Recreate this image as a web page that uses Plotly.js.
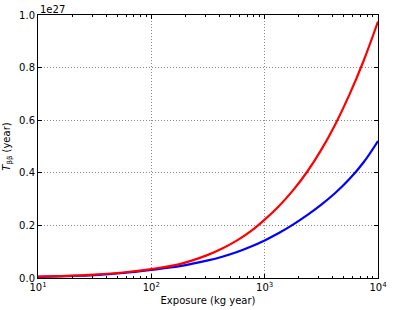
<!DOCTYPE html>
<html>
<head>
<meta charset="utf-8">
<script src="https://cdn.plot.ly/plotly-3.0.1.min.js"></script>
<style>html,body{margin:0;padding:0;background:#fff;}#chart{width:393px;height:310px;}</style>
</head>
<body>
<div id="chart"></div>
<script>
// Exposure (kg year)
const exposure = [10, 17.8, 31.6, 56.2, 100, 178, 316, 422, 562, 750, 1000, 1334, 1778, 2371, 3162, 4217, 5623, 7499, 10000];
// Sensitivity values in units of 1e27 years
const redT = [0.005, 0.008, 0.013, 0.021, 0.034, 0.053, 0.088, 0.112, 0.141, 0.177, 0.222, 0.273, 0.333, 0.404, 0.488, 0.586, 0.699, 0.828, 0.975];
const blueT = [0.004, 0.007, 0.011, 0.019, 0.031, 0.045, 0.067, 0.081, 0.098, 0.119, 0.143, 0.171, 0.203, 0.239, 0.279, 0.324, 0.377, 0.441, 0.521];
const xTickVals = [10, 100, 1000, 10000];
const xTickText = ['10<sup>1</sup>', '10<sup>2</sup>', '10<sup>3</sup>', '10<sup>4</sup>'];
const yTickVals = [0, 0.2, 0.4, 0.6, 0.8, 1.0];
const yTickText = ['0.0', '0.2', '0.4', '0.6', '0.8', '1.0'];

// minor tick positions (2..9 within each decade) - styling only
const minorVals = [];
for (let d = 10; d < 10000; d *= 10) for (let k = 2; k <= 9; k++) minorVals.push(d * k);

const font = {family: 'DejaVu Sans', size: 10, color: '#000'};
const traces = [
  {x: exposure, y: blueT, mode: 'lines', line: {color: '#0000ff', width: 2.2, shape: 'spline', smoothing: 1}, hoverinfo: 'skip'},
  {x: exposure, y: redT, mode: 'lines', line: {color: '#ff0000', width: 2.2, shape: 'spline', smoothing: 1}, hoverinfo: 'skip'}
];
const axisCommon = {
  showline: true, linecolor: '#000', linewidth: 1, mirror: 'allticks',
  ticks: 'inside', ticklen: 4, tickwidth: 1, tickcolor: '#000',
  showgrid: true, gridcolor: '#888888', griddash: '1px,2px', gridwidth: 1,
  zeroline: false, tickfont: font
};
const layout = {
  width: 393, height: 310,
  margin: {l: 37.5, r: 15, t: 14.5, b: 32, pad: 0},
  paper_bgcolor: '#fff', plot_bgcolor: '#fff',
  showlegend: false,
  font: font,
  xaxis: Object.assign({}, axisCommon, {
    type: 'log', range: [1, 4], tickmode: 'array', tickvals: xTickVals, ticktext: xTickText,
    minor: {tickmode: 'array', tickvals: minorVals, ticks: 'inside', ticklen: 2, tickwidth: 1, tickcolor: '#000', showgrid: false},
    title: {text: 'Exposure (kg year)', font: font, standoff: 4}
  }),
  yaxis: Object.assign({}, axisCommon, {
    range: [0, 1.0], tickmode: 'array', tickvals: yTickVals, ticktext: yTickText,
    title: {text: '<i>T</i><sub>ββ</sub> (year)', font: font, standoff: 6}
  }),
  annotations: [{
    text: '1e27', xref: 'paper', yref: 'paper', x: 0, y: 1, xanchor: 'left', yanchor: 'bottom',
    showarrow: false, font: font, yshift: -2
  }]
};
Plotly.newPlot('chart', traces, layout, {staticPlot: true, displayModeBar: false});
</script>
</body>
</html>
